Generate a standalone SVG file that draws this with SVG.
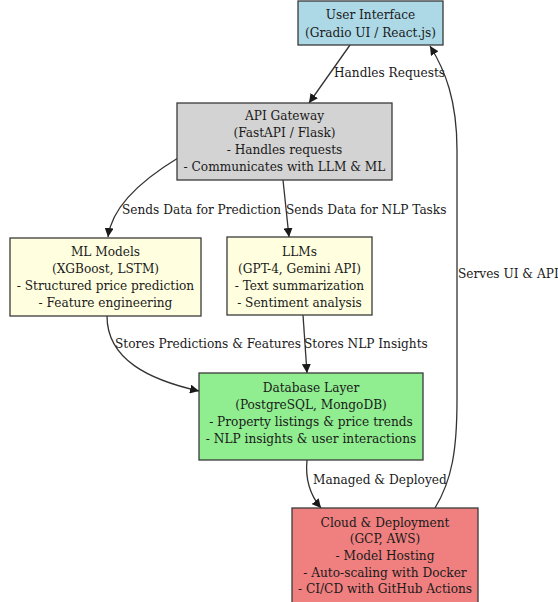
<svg xmlns="http://www.w3.org/2000/svg" width="558" height="602" viewBox="0 0 558 602">
<defs>
<style>
text{font-family:"DejaVu Serif Condensed","DejaVu Serif",serif;font-size:13.5px;fill:#1a1a1a;text-anchor:middle}
.lbl{text-anchor:start}
.box{stroke:#3a3a3a;stroke-width:1.3}
.edge{fill:none;stroke:#333;stroke-width:1.3}
</style>
<marker id="ah" viewBox="0 0 10 10" refX="10" refY="5" markerWidth="9" markerHeight="9" markerUnits="userSpaceOnUse" orient="auto">
<path d="M0,0 L10,5 L0,10 z" fill="#1a1a1a"/>
</marker>
</defs>
<rect width="558" height="602" fill="#ffffff"/>
<g id="edges">
<path class="edge" marker-end="url(#ah)" d="M350,45 L309,103"/>
<text class="lbl" x="334" y="77">Handles Requests</text>
<path class="edge" marker-end="url(#ah)" d="M178,158 C145,178 112,205 108,237"/>
<text class="lbl" x="122" y="214">Sends Data for Prediction</text>
<path class="edge" marker-end="url(#ah)" d="M283,180 L289,237"/>
<text class="lbl" x="286" y="214">Sends Data for NLP Tasks</text>
<path class="edge" marker-end="url(#ah)" d="M107,316 C107,360 150,380 199,391"/>
<text class="lbl" x="115" y="348">Stores Predictions &amp; Features</text>
<path class="edge" marker-end="url(#ah)" d="M303,315 L307,373"/>
<text class="lbl" x="304" y="348">Stores NLP Insights</text>
<path class="edge" marker-end="url(#ah)" d="M307,460 C305,480 310,495 321,508"/>
<text class="lbl" x="313" y="484">Managed &amp; Deployed</text>
<path class="edge" marker-end="url(#ah)" d="M435,508 C452,480 457,450 457,400 L457,150 C457,100 445,70 430,46"/>
<text class="lbl" x="458" y="278">Serves UI &amp; API</text>
</g>
<g id="ui">
<rect class="box" x="298" y="1" width="145" height="44" fill="#add8e6"/>
<text x="370.5" y="19">User Interface</text>
<text x="370.5" y="37">(Gradio UI / React.js)</text>
</g>
<g id="api">
<rect class="box" x="177" y="103" width="215" height="77" fill="#d3d3d3"/>
<text x="284.5" y="120">API Gateway</text>
<text x="284.5" y="137">(FastAPI / Flask)</text>
<text x="284.5" y="154">- Handles requests</text>
<text x="284.5" y="171">- Communicates with LLM &amp; ML</text>
</g>
<g id="ml">
<rect class="box" x="10" y="238" width="191" height="78" fill="#ffffe0"/>
<text x="105.5" y="256">ML Models</text>
<text x="105.5" y="273">(XGBoost, LSTM)</text>
<text x="105.5" y="290">- Structured price prediction</text>
<text x="105.5" y="307">- Feature engineering</text>
</g>
<g id="llm">
<rect class="box" x="227" y="237" width="145" height="78" fill="#ffffe0"/>
<text x="299.5" y="256">LLMs</text>
<text x="299.5" y="273">(GPT-4, Gemini API)</text>
<text x="299.5" y="290">- Text summarization</text>
<text x="299.5" y="307">- Sentiment analysis</text>
</g>
<g id="db">
<rect class="box" x="199" y="373" width="224" height="87" fill="#90ee90"/>
<text x="311" y="392">Database Layer</text>
<text x="311" y="409">(PostgreSQL, MongoDB)</text>
<text x="311" y="426">- Property listings &amp; price trends</text>
<text x="311" y="443">- NLP insights &amp; user interactions</text>
</g>
<g id="cloud">
<rect class="box" x="292" y="508" width="186" height="96" fill="#f08080"/>
<text x="385" y="527">Cloud &amp; Deployment</text>
<text x="385" y="543">(GCP, AWS)</text>
<text x="385" y="560">- Model Hosting</text>
<text x="385" y="577">- Auto-scaling with Docker</text>
<text x="385" y="593">- CI/CD with GitHub Actions</text>
</g>
</svg>
